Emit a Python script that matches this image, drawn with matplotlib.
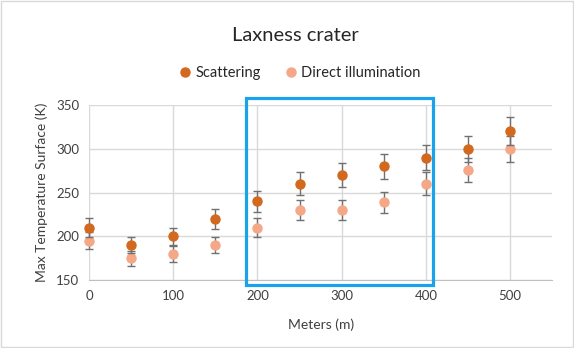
import matplotlib.pyplot as plt
from matplotlib.patches import Rectangle

meters = [0, 50, 100, 150, 200, 250, 300, 350, 400, 450, 500]
scattering = [210, 190, 200, 220, 240, 260, 270, 280, 290, 300, 320]
scattering_err = [10.5, 9.5, 10, 11, 12, 13, 13.5, 14, 14.5, 15, 16]
direct = [195, 175, 180, 190, 210, 230, 230, 239, 260, 276, 300]
direct_err = [9.75, 8.75, 9, 9.5, 10.5, 11.5, 11.5, 12, 13, 13.8, 15]

plt.rcParams['font.family'] = ['Lato', 'DejaVu Sans']

fig = plt.figure(figsize=(5.74, 3.48), dpi=100)
ax = fig.add_axes([0.155, 0.195, 0.807, 0.503])

ax.errorbar(meters, scattering, yerr=scattering_err, fmt='o', color='#D2691E',
            ms=6.5, ecolor='#707070', elinewidth=1, capsize=3, capthick=1,
            label='Scattering', zorder=3, clip_on=False)
ax.errorbar(meters, direct, yerr=direct_err, fmt='o', color='#F4A888',
            ms=6.5, ecolor='#707070', elinewidth=1, capsize=3, capthick=1,
            label='Direct illumination', zorder=2, clip_on=False)

ax.set_xlim(0, 550)
ax.set_ylim(150, 350)
ax.set_xticks(range(0, 501, 100))
ax.set_yticks(range(150, 351, 50))
ax.grid(True, color='#D9D9D9', lw=1)
ax.set_axisbelow(True)
for s in ['top', 'right', 'left']:
    ax.spines[s].set_visible(False)
ax.spines['bottom'].set_color('#BFBFBF')
ax.tick_params(length=0, labelsize=9.5, colors='#404040', pad=7)

ax.set_xlabel('Meters (m)', fontsize=10, color='#404040', labelpad=12)
ax.set_ylabel('Max Temperature Surface (K)', fontsize=10, color='#404040', labelpad=6)

# highlight box
ax.add_patch(Rectangle((186, 144), 222, 214, fill=False, ec='#1AA3E8', lw=2.3,
                       clip_on=False, zorder=4))

fig.text(0.514, 0.898, 'Laxness crater', ha='center', va='center', fontsize=14.5, color='#262626')
handles, labels = ax.get_legend_handles_labels()
handles = [h[0] for h in handles]
fig.legend(handles, labels, loc='center', bbox_to_anchor=(0.52, 0.79), ncol=2,
           frameon=False, fontsize=10.5, handletextpad=0.1, columnspacing=1.5,
           handlelength=1.2, labelcolor='#262626')

fig.add_artist(Rectangle((0.002, 0.003), 0.996, 0.994, transform=fig.transFigure,
                         fill=False, ec='#D9D9D9', lw=1))

fig.savefig('out.png', dpi=100)
